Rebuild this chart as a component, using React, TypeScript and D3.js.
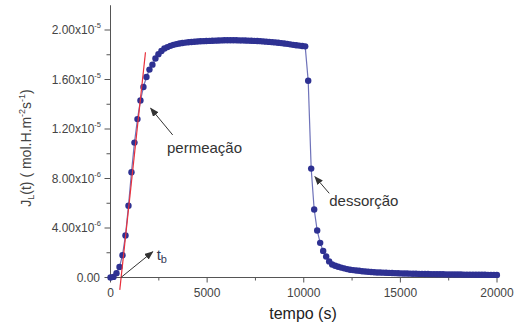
import React from 'react';
import * as d3 from 'd3';

// time (s) and flux (x1e-6 mol.H.m^-2 s^-1)
const permeacaoTempo = [0, 155, 310, 465, 620, 775, 930, 1085, 1240, 1395, 1550, 1705, 1860, 2015, 2170,
  2325, 2480, 2635, 2790, 2945, 3100, 3255, 3410, 3565, 3720, 3875, 4030, 4185, 4340, 4495, 4650, 4805, 4960,
  5115, 5270, 5425, 5580, 5735, 5890, 6045, 6200, 6355, 6510, 6665, 6820, 6975, 7130, 7285, 7440, 7595, 7750,
  7905, 8060, 8215, 8370, 8525, 8680, 8835, 8990, 9145, 9300, 9455, 9610, 9765, 9920, 10075];
const permeacaoFluxo = [0, 0.05, 0.35, 0.85, 1.8, 3.4, 5.8, 8.5, 10.9, 12.8, 14.3, 15.4, 16.2, 16.8, 17.2,
  17.7, 18.05, 18.3, 18.5, 18.62, 18.72, 18.8, 18.86, 18.91, 18.95, 18.98, 19.01, 19.03, 19.05, 19.07, 19.09, 19.1, 19.11,
  19.12, 19.13, 19.14, 19.15, 19.16, 19.17, 19.17, 19.17, 19.17, 19.17, 19.16, 19.16, 19.15, 19.14, 19.13, 19.12, 19.11, 19.1,
  19.08, 19.06, 19.04, 19.02, 19.0, 18.97, 18.94, 18.91, 18.88, 18.84, 18.8, 18.77, 18.74, 18.71, 18.68];
const dessorcaoTempo = [10230, 10385, 10540, 10695, 10850, 11005, 11160, 11315, 11470, 11625, 11780, 11935,
  12090, 12245, 12400, 12555, 12710, 12865, 13020, 13175, 13330, 13485, 13640, 13795, 13950, 14105, 14260,
  14415, 14570, 14725, 14880, 15035, 15190, 15345, 15500, 15655, 15810, 15965, 16120, 16275, 16430, 16585,
  16740, 16895, 17050, 17205, 17360, 17515, 17670, 17825, 17980, 18135, 18290, 18445, 18600, 18755, 18910,
  19065, 19220, 19375, 19530, 19685, 19840, 19995];
const dessorcaoFluxo = [15.9, 8.8, 5.5, 3.8, 2.8, 2.15, 1.7, 1.3, 1.05, 0.95, 0.87, 0.8,
  0.74, 0.68, 0.63, 0.6, 0.57, 0.54, 0.51, 0.49, 0.47, 0.45, 0.43, 0.41, 0.4, 0.39, 0.38,
  0.37, 0.36, 0.35, 0.34, 0.33, 0.32, 0.32, 0.31, 0.3, 0.3, 0.29, 0.29, 0.28, 0.28, 0.27,
  0.27, 0.26, 0.26, 0.26, 0.25, 0.25, 0.25, 0.24, 0.24, 0.24, 0.23, 0.23, 0.23, 0.23, 0.22,
  0.22, 0.22, 0.22, 0.21, 0.21, 0.21, 0.21];
const ajusteTempo = [480, 1810];
const ajusteFluxo = [-1.0, 18.2];

const xTicks = [0, 5000, 10000, 15000, 20000];
const xTickLabels = ['0', '5000', '10000', '15000', '20000'];
const xMinorTicks = [2500, 7500, 12500, 17500];
const yTicks = [0, 4, 8, 12, 16, 20];
const yTickMant = ['0.00', '4.00x10', '8.00x10', '1.20x10', '1.60x10', '2.00x10'];
const yTickExp = ['', '-6', '-6', '-5', '-5', '-5'];
const yMinorTicks = [2, 6, 10, 14, 18];

const FONT = 'Liberation Sans, Arial, Helvetica, sans-serif';

export default function App() {
  const x = d3.scaleLinear().domain([0, 20000]).range([110.5, 497]);
  const y = d3.scaleLinear().domain([0, 22]).range([277.5, 5.25]);

  const pts: [number, number][] = [
    ...permeacaoTempo.map((t, i) => [t, permeacaoFluxo[i]] as [number, number]),
    ...dessorcaoTempo.map((t, i) => [t, dessorcaoFluxo[i]] as [number, number]),
  ];
  const line = d3.line<[number, number]>().x(d => x(d[0])).y(d => y(d[1]));
  const fit: [number, number][] = ajusteTempo.map((t, i) => [t, ajusteFluxo[i]]);

  const axisColor = '#555';
  const textColor = '#444';
  const dotColor = '#2e3192';

  const arrow = (x1: number, y1: number, x2: number, y2: number) => (
    <line x1={x(x1)} y1={y(y1)} x2={x(x2)} y2={y(y2)} stroke="#333" strokeWidth={1} markerEnd="url(#ah)" />
  );

  return (
    <svg width={517} height={329} style={{ position: 'absolute', left: 0, top: 0, background: '#fff' }}
      fontFamily={FONT}>
      <defs>
        <marker id="ah" markerUnits="userSpaceOnUse" markerWidth={9} markerHeight={7} refX={8} refY={3.5} orient="auto">
          <path d="M0,0 L9,3.5 L0,7 z" fill="#333" />
        </marker>
      </defs>
      {/* axes */}
      <line x1={x(0)} x2={x(0)} y1={y(0)} y2={y(22)} stroke={axisColor} strokeWidth={1} />
      <line x1={x(0)} x2={x(20000)} y1={y(0)} y2={y(0)} stroke={axisColor} strokeWidth={1} />
      {xTicks.map((t, i) => (
        <g key={'xt' + i}>
          <line x1={x(t)} x2={x(t)} y1={y(0)} y2={y(0) + 5} stroke={axisColor} />
          <text x={x(t)} y={297} textAnchor="middle" fontSize={12} fill={textColor}>{xTickLabels[i]}</text>
        </g>
      ))}
      {xMinorTicks.map((t, i) => (
        <line key={'xm' + i} x1={x(t)} x2={x(t)} y1={y(0)} y2={y(0) + 3} stroke={axisColor} />
      ))}
      {yTicks.map((v, i) => (
        <g key={'yt' + i}>
          <line x1={x(0) - 6} x2={x(0)} y1={y(v)} y2={y(v)} stroke={axisColor} />
          <text x={yTickExp[i] ? 101 : 100} y={y(v) + 4.3} textAnchor="end" fontSize={12} fill={textColor}>
            {yTickMant[i]}
            {yTickExp[i] && <tspan dy={-6} fontSize={7.5}>{yTickExp[i]}</tspan>}
          </text>
        </g>
      ))}
      {yMinorTicks.map((v, i) => (
        <line key={'ym' + i} x1={x(0) - 4} x2={x(0)} y1={y(v)} y2={y(v)} stroke={axisColor} />
      ))}
      {/* axis titles */}
      <text transform="translate(31,148) rotate(-90)" textAnchor="middle" fontSize={14} fill={textColor}>
        J<tspan dy={3} fontSize={9}>L</tspan><tspan dy={-3}>(t) ( mol.H.m</tspan>
        <tspan dy={-6} fontSize={9}>-2</tspan><tspan dy={6}>s</tspan>
        <tspan dy={-6} fontSize={9}>-1</tspan><tspan dy={6}>)</tspan>
      </text>
      <text x={303} y={319} textAnchor="middle" fontSize={16} fill="#222">tempo (s)</text>

      {/* data */}
      <path d={line(pts) || ''} fill="none" stroke="#4a4fa8" strokeOpacity={0.8} strokeWidth={1.2} />
      {pts.map((p, i) => (
        <circle key={'p' + i} cx={x(p[0])} cy={y(p[1])} r={3.2} fill={dotColor} />
      ))}
      <path d={line(fit) || ''} fill="none" stroke="#e8303c" strokeWidth={1.2} />

      {/* annotations */}
      {arrow(3218, 11.52, 2080, 13.67)}
      <text x={x(2923)} y={y(10.06)} fontSize={15} fill="#333">permeação</text>
      {arrow(11320, 6.8, 10580, 8.15)}
      <text x={x(11320)} y={y(5.78)} fontSize={15} fill="#333">dessorção</text>
      {arrow(540, 0, 2183, 2.08)}
      <text x={x(2390)} y={y(1.41)} fontSize={15} fill="#333a55">t<tspan dy={3} fontSize={11}>b</tspan></text>
    </svg>
  );
}
